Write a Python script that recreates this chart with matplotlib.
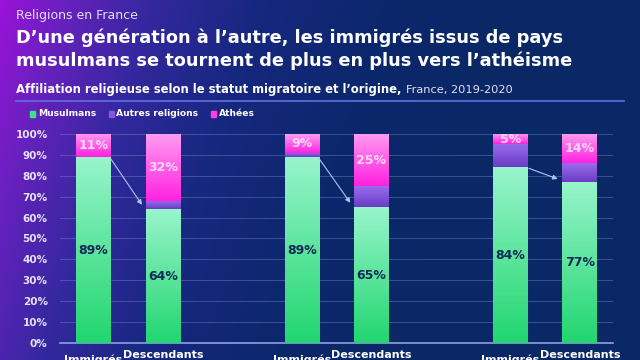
import numpy as np
import matplotlib.pyplot as plt
from matplotlib.colors import LinearSegmentedColormap

plt.rcParams['font.family'] = ['DejaVu Sans']

# data (percent)
groups = ["Immigrés", "Descendants", "Immigrés", "Descendants", "Immigrés", "Descendants"]
musulmans = [89, 64, 89, 65, 84, 77]
autres = [0, 4, 2, 10, 11, 9]
athees = [11, 32, 9, 25, 5, 14]
pos = [0, 1, 3, 4, 6, 7]
yticks = [0, 10, 20, 30, 40, 50, 60, 70, 80, 90, 100]

fig = plt.figure(figsize=(6.4, 3.6), dpi=100)

# background gradient, purple on the left -> navy on the right
bg = fig.add_axes([0, 0, 1, 1], zorder=-10)
gx, gy = np.meshgrid(np.linspace(0, 1, 320), np.linspace(0, 1, 180))
g = np.clip(gx * 1.25 + gy * 0.22, 0, 1)
bg_cmap = LinearSegmentedColormap.from_list(
    "bg", [(0, "#9a12d8"), (0.12, "#6a20c0"), (0.3, "#33289e"),
           (0.5, "#172780"), (0.75, "#0c276c"), (1, "#0a2866")])
bg.imshow(g, cmap=bg_cmap, aspect="auto", extent=[0, 1, 0, 1], origin="upper")
bg.set_xlim(0, 1)
bg.set_ylim(0, 1)
bg.set_axis_off()

ax = fig.add_axes([0.094, 0.047, 0.864, 0.581])
ax.set_facecolor("none")

bw = 0.5
b1 = ax.bar(pos, musulmans, width=bw, color="#3fe08a", zorder=3)
b2 = ax.bar(pos, autres, width=bw, bottom=musulmans, color="#8458dc", zorder=3)
bot3 = [m + a for m, a in zip(musulmans, autres)]
b3 = ax.bar(pos, athees, width=bw, bottom=bot3, color="#ff3ee6", zorder=3)

# vertical gradients clipped to bars
def fill_grad(bars, c_top, c_bot):
    cm = LinearSegmentedColormap.from_list("g", [c_bot, c_top])
    grad = np.linspace(0, 1, 100).reshape(-1, 1)
    for b in bars:
        if b.get_height() <= 0:
            continue
        x0, y0 = b.get_x(), b.get_y()
        im = ax.imshow(grad, cmap=cm, aspect="auto", origin="lower",
                       extent=[x0, x0 + b.get_width(), y0, y0 + b.get_height()],
                       zorder=4)
        im.set_clip_path(b)

fill_grad(b1, "#98f4cc", "#22d670")
fill_grad(b2, "#9a6cec", "#6a3cc4")
fill_grad(b3, "#ff9cf0", "#ff22e0")

for p, m, a, t in zip(pos, musulmans, autres, athees):
    ax.text(p, m / 2, f"{m}%", ha="center", va="center", fontsize=9,
            fontweight="bold", color="#0f2a55", zorder=6)
    ax.text(p, m + a + t / 2, f"{t}%", ha="center", va="center", fontsize=9,
            fontweight="bold", color="#ffd8fa", zorder=6)

# arrows immigrants -> descendants
for i in (0, 2, 4):
    ax.annotate("", xy=(pos[i + 1] - bw / 2 - 0.03, musulmans[i + 1] + 1),
                xytext=(pos[i] + bw / 2 - 0.02, musulmans[i]),
                arrowprops=dict(arrowstyle="-|>", color="#a8c8f0", lw=0.8,
                                mutation_scale=7), zorder=7)

ax.set_xlim(-0.48, 7.48)
ax.set_ylim(0, 100)
ax.set_yticks(yticks)
ax.set_yticklabels([f"{v}%" for v in yticks], fontsize=7.5, fontweight="bold",
                   color="#e6e4f6")
ax.set_xticks([])
ax.tick_params(axis="y", length=0, pad=9)
ax.grid(axis="y", color="#8a94c8", alpha=0.45, lw=0.6, zorder=0)
for s in ("top", "right", "left"):
    ax.spines[s].set_visible(False)
ax.spines["bottom"].set_color("#8fa0e0")
ax.spines["bottom"].set_linewidth(1.2)

for p, lab in zip(pos, groups):
    if lab == "Immigrés":
        ax.text(p, -0.053, lab, transform=ax.get_xaxis_transform(), ha="center",
                va="top", fontsize=8, fontweight="bold", color="white",
                clip_on=False)
    else:
        ax.text(p, -0.033, lab, transform=ax.get_xaxis_transform(),
                ha="center", va="top", fontsize=8, fontweight="bold",
                color="white", clip_on=False)

# titles
fig.text(0.025, 0.958, "Religions en France", fontsize=9, color="#e4e0f4",
         va="center")
fig.text(0.025, 0.895, "D’une génération à l’autre, les immigrés issus de pays",
         fontsize=12.8, fontweight="bold", color="white", va="center")
fig.text(0.025, 0.832, "musulmans se tournent de plus en plus vers l’athéisme",
         fontsize=12.8, fontweight="bold", color="white", va="center")
t1 = fig.text(0.025, 0.75, "Affiliation religieuse selon le statut migratoire et l’origine,",
              fontsize=8.4, fontweight="bold", color="white", va="center")
fig.canvas.draw()
bb = t1.get_window_extent().transformed(fig.transFigure.inverted())
fig.text(bb.x1 + 0.007, 0.75, "France, 2019-2020", fontsize=8.2, color="#e4e0f4",
         va="center")
bg.plot([0.025, 0.975], [0.719, 0.719], color="#6070e0", lw=1.2,
        transform=bg.transAxes)

# legend
lx = 0.047
for name, col in [("Musulmans", "#3fe08a"), ("Autres religions", "#8458dc"),
                  ("Athées", "#ff3ee6")]:
    bg.add_patch(plt.Rectangle((lx, 0.676), 0.008, 0.015, color=col,
                               transform=bg.transAxes))
    tt = fig.text(lx + 0.012, 0.684, name, fontsize=6.6, fontweight="bold",
                  color="white", va="center")
    fig.canvas.draw()
    lx = tt.get_window_extent().transformed(fig.transFigure.inverted()).x1 + 0.02

fig.savefig("out.png", dpi=100)
